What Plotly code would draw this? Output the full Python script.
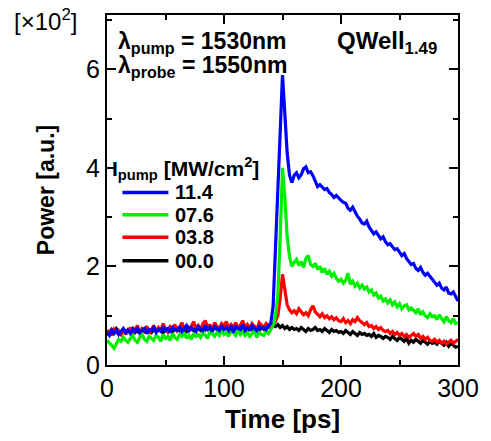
import plotly.graph_objects as go

# Time axis in ps, 2 ps sampling
time_ps = list(range(0, 301, 2))

# Probe power (x10^2 a.u.) for each pump intensity [MW/cm^2]
power_114 = [
    0.66, 0.60, 0.70, 0.64, 0.72, 0.62, 0.68, 0.74, 0.66, 0.70,
    0.64, 0.72, 0.68, 0.76, 0.66, 0.70, 0.74, 0.64, 0.72, 0.70,
    0.76, 0.66, 0.72, 0.68, 0.78, 0.70, 0.74, 0.66, 0.76, 0.72,
    0.70, 0.78, 0.68, 0.74, 0.80, 0.70, 0.76, 0.72, 0.68, 0.78,
    0.74, 0.70, 0.80, 0.72, 0.76, 0.68, 0.78, 0.74, 0.70, 0.80,
    0.72, 0.76, 0.70, 0.80, 0.66, 0.78, 0.74, 0.72, 0.82, 0.70,
    0.76, 0.72, 0.80, 0.74, 0.70, 0.78, 0.74, 0.76, 0.72, 0.80,
    0.85, 1.20, 2.30, 3.40, 4.70, 5.88, 5.10, 4.30, 3.85, 3.70,
    3.85, 3.90, 3.80, 3.86, 3.98, 4.02, 3.90, 3.92, 3.84, 3.72,
    3.62, 3.66, 3.60, 3.56, 3.58, 3.50, 3.46, 3.40, 3.44, 3.38,
    3.34, 3.30, 3.28, 3.18, 3.14, 3.20, 3.10, 3.02, 2.96, 2.88,
    2.86, 2.92, 2.80, 2.74, 2.66, 2.70, 2.62, 2.56, 2.60, 2.50,
    2.44, 2.46, 2.40, 2.34, 2.36, 2.28, 2.22, 2.26, 2.16, 2.10,
    2.04, 2.06, 1.96, 1.92, 1.98, 1.88, 1.82, 1.86, 1.80, 1.74,
    1.68, 1.62, 1.66, 1.56, 1.52, 1.58, 1.46, 1.44, 1.48, 1.38,
    1.30,
]
power_076 = [
    0.50, 0.46, 0.40, 0.34, 0.44, 0.52, 0.48, 0.56, 0.50, 0.46,
    0.54, 0.60, 0.50, 0.46, 0.56, 0.62, 0.52, 0.48, 0.58, 0.54,
    0.50, 0.60, 0.56, 0.48, 0.62, 0.54, 0.58, 0.50, 0.64, 0.56,
    0.52, 0.62, 0.58, 0.66, 0.54, 0.60, 0.52, 0.64, 0.58, 0.62,
    0.56, 0.66, 0.60, 0.54, 0.68, 0.62, 0.58, 0.66, 0.60, 0.70,
    0.62, 0.66, 0.58, 0.70, 0.64, 0.60, 0.72, 0.62, 0.68, 0.60,
    0.66, 0.58, 0.64, 0.70, 0.56, 0.66, 0.62, 0.60, 0.68, 0.64,
    0.72, 0.80, 1.00, 1.40, 2.60, 4.00, 3.40, 2.60, 2.20, 2.00,
    2.08, 2.14, 2.02, 2.10, 1.98, 2.16, 2.22, 2.04, 2.00, 2.06,
    1.94, 2.00, 1.88, 1.96, 1.84, 1.90, 1.80, 1.86, 1.76, 1.70,
    1.74, 1.66, 1.72, 1.86, 1.64, 1.70, 1.60, 1.66, 1.56, 1.62,
    1.54, 1.58, 1.48, 1.52, 1.42, 1.46, 1.36, 1.40, 1.30, 1.34,
    1.26, 1.32, 1.22, 1.28, 1.18, 1.24, 1.14, 1.20, 1.22, 1.12,
    1.16, 1.10, 1.06, 1.14, 1.02, 1.08, 1.00, 0.96, 1.04, 0.98,
    1.00, 0.92, 1.02, 0.94, 0.88, 0.98, 0.90, 0.86, 0.94, 0.84,
    0.86,
]
power_038 = [
    0.62, 0.68, 0.60, 0.72, 0.66, 0.70, 0.64, 0.74, 0.62, 0.70,
    0.76, 0.64, 0.72, 0.80, 0.66, 0.74, 0.70, 0.78, 0.64, 0.72,
    0.80, 0.68, 0.76, 0.70, 0.84, 0.72, 0.66, 0.78, 0.74, 0.82,
    0.70, 0.76, 0.86, 0.72, 0.80, 0.68, 0.78, 0.88, 0.74, 0.80,
    0.72, 0.84, 0.90, 0.76, 0.82, 0.70, 0.86, 0.78, 0.74, 0.84,
    0.80, 0.88, 0.74, 0.82, 0.76, 0.86, 0.72, 0.80, 0.90, 0.76,
    0.82, 0.74, 0.84, 0.78, 0.72, 0.86, 0.80, 0.76, 0.84, 0.78,
    0.80, 0.84, 0.88, 1.00, 1.35, 1.84, 1.55, 1.22, 1.12, 1.06,
    1.10, 1.04, 1.14, 1.08, 1.02, 1.06, 1.00, 1.12, 1.20, 1.08,
    1.02, 0.98, 1.04, 0.96, 1.00, 0.94, 0.98, 0.92, 0.96, 0.90,
    0.88, 0.94, 0.86, 0.90, 0.84, 0.92, 0.88, 0.96, 0.90, 0.86,
    0.82, 0.86, 0.78, 0.80, 0.74, 0.78, 0.72, 0.76, 0.70, 0.68,
    0.70, 0.64, 0.68, 0.62, 0.66, 0.60, 0.64, 0.58, 0.62, 0.56,
    0.60, 0.64, 0.58, 0.62, 0.54, 0.58, 0.52, 0.56, 0.50, 0.48,
    0.52, 0.46, 0.50, 0.44, 0.48, 0.42, 0.46, 0.50, 0.44, 0.48,
    0.52,
]
power_000 = [
    0.70, 0.64, 0.72, 0.66, 0.74, 0.68, 0.62, 0.70, 0.66, 0.72,
    0.68, 0.74, 0.66, 0.70, 0.64, 0.72, 0.68, 0.76, 0.70, 0.66,
    0.72, 0.68, 0.74, 0.70, 0.66, 0.74, 0.70, 0.76, 0.68, 0.72,
    0.74, 0.70, 0.78, 0.72, 0.68, 0.76, 0.72, 0.70, 0.78, 0.74,
    0.70, 0.76, 0.72, 0.80, 0.74, 0.70, 0.78, 0.72, 0.76, 0.70,
    0.74, 0.78, 0.72, 0.76, 0.70, 0.74, 0.78, 0.72, 0.76, 0.74,
    0.70, 0.76, 0.72, 0.78, 0.74, 0.70, 0.76, 0.72, 0.74, 0.78,
    0.76, 0.80, 0.78, 0.82, 0.76, 0.80, 0.74, 0.78, 0.72, 0.76,
    0.72, 0.74, 0.70, 0.76, 0.72, 0.68, 0.74, 0.70, 0.72, 0.76,
    0.70, 0.72, 0.68, 0.74, 0.70, 0.66, 0.72, 0.68, 0.70, 0.66,
    0.68, 0.64, 0.70, 0.66, 0.62, 0.68, 0.64, 0.60, 0.66, 0.62,
    0.64, 0.60, 0.62, 0.58, 0.64, 0.56, 0.60, 0.58, 0.54, 0.58,
    0.56, 0.52, 0.58, 0.54, 0.50, 0.56, 0.52, 0.48, 0.54, 0.44,
    0.50, 0.46, 0.52, 0.48, 0.44, 0.50, 0.46, 0.42, 0.48, 0.44,
    0.46, 0.42, 0.48, 0.44, 0.40, 0.46, 0.38, 0.44, 0.40, 0.36,
    0.38,
]

# Drawing order: lowest intensity first so the strongest sits on top
series_names = ["00.0", "03.8", "07.6", "11.4"]
series_values = [power_000, power_038, power_076, power_114]
series_colors = ["#000000", "#ff0000", "#00ee00", "#0000ff"]

FONT = "Liberation Sans, Arial, sans-serif"

fig = go.Figure()
for name, vals, col in zip(series_names, series_values, series_colors):
    fig.add_trace(go.Scatter(
        x=time_ps, y=vals, name=name, mode="lines",
        line=dict(color=col, width=3.2), showlegend=False,
    ))

axis_common = dict(
    showline=True, linecolor="black", linewidth=2, mirror="ticks",
    ticks="inside", ticklen=9, tickwidth=1.5, tickcolor="black",
    showgrid=False, zeroline=False,
    tickfont=dict(family=FONT, size=25, color="black"),
)

fig.update_xaxes(
    range=[0, 300], tickvals=[0, 100, 200, 300],
    minor=dict(dtick=50, ticks="inside", ticklen=5, tickwidth=1.5, tickcolor="black"),
    title=dict(text="<b>Time [ps]</b>", font=dict(family=FONT, size=26, color="black"), standoff=9),
    **axis_common,
)
fig.update_yaxes(
    range=[0, 7.1], tickvals=[0, 2, 4, 6],
    minor=dict(dtick=1, ticks="inside", ticklen=5, tickwidth=1.5, tickcolor="black"),
    title=dict(text="<b>Power [a.u.]</b>", font=dict(family=FONT, size=23, color="black"), standoff=25),
    **axis_common,
)

fig.add_annotation(xref="paper", yref="paper", x=-0.27, y=0.985, xanchor="left", yanchor="middle",
                   text="[\u00d710<sup>2</sup>]", showarrow=False,
                   font=dict(family=FONT, size=24, color="black"))
fig.add_annotation(xref="paper", yref="paper", x=0.025, y=0.92, xanchor="left", yanchor="middle",
                   text="<b>\u03bb<sub>pump</sub> = 1530nm</b>", showarrow=False,
                   font=dict(family=FONT, size=23, color="black"))
fig.add_annotation(xref="paper", yref="paper", x=0.025, y=0.852, xanchor="left", yanchor="middle",
                   text="<b>\u03bb<sub>probe</sub> = 1550nm</b>", showarrow=False,
                   font=dict(family=FONT, size=23, color="black"))
fig.add_annotation(xref="paper", yref="paper", x=0.65, y=0.92, xanchor="left", yanchor="middle",
                   text="<b>QWell<sub>1.49</sub></b>", showarrow=False,
                   font=dict(family=FONT, size=24, color="black"))

# Key for pump intensity, listed from strongest to weakest
fig.add_annotation(xref="paper", yref="paper", x=0.012, y=0.562, xanchor="left", yanchor="middle",
                   text="<b>I<sub>pump</sub> [MW/cm<sup>2</sup>]</b>", showarrow=False,
                   borderpad=0, font=dict(family=FONT, size=21, color="black"))
key_rows = [0.493, 0.429, 0.365, 0.298]
for row_y, name, col in zip(key_rows, series_names[::-1], series_colors[::-1]):
    fig.add_shape(type="line", xref="paper", yref="paper",
                  x0=0.044, x1=0.175, y0=row_y, y1=row_y,
                  line=dict(color=col, width=3.5))
    fig.add_annotation(xref="paper", yref="paper", x=0.19, y=row_y, xanchor="left", yanchor="middle",
                       text="<b>" + name + "</b>", showarrow=False,
                       borderpad=0, font=dict(family=FONT, size=20, color="black"))

fig.update_layout(
    width=491, height=441,
    margin=dict(l=107, r=24, t=15, b=67),
    paper_bgcolor="white", plot_bgcolor="white",
    showlegend=False,
)

fig.write_html("out.html")
